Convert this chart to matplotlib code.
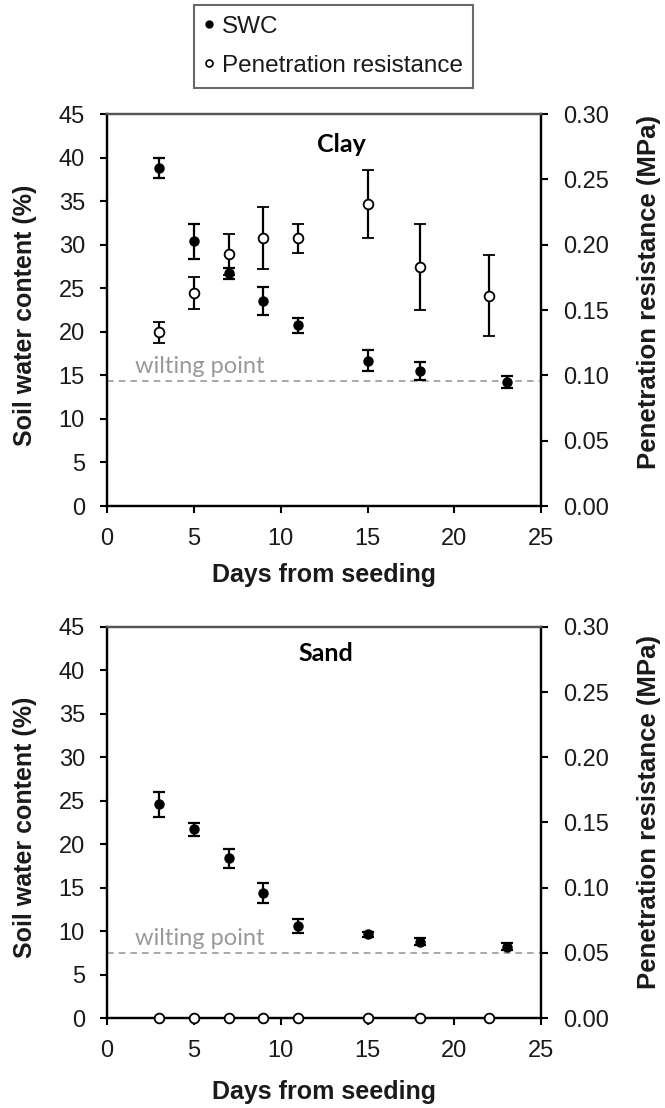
import matplotlib
matplotlib.use("Agg")
import matplotlib.pyplot as plt
from matplotlib.lines import Line2D

plt.rcParams['font.family'] = ['Liberation Sans', 'DejaVu Sans']

# data
swc_days = [3, 5, 7, 9, 11, 15, 18, 23]
pr_days = [3, 5, 7, 9, 11, 15, 18, 22]

# clay
swc_clay = [38.8, 30.4, 26.7, 23.5, 20.75, 16.7, 15.5, 14.2]
swc_clay_err = [1.1, 2.0, 0.6, 1.6, 0.85, 1.25, 1.05, 0.7]
pr_clay = [0.133, 0.163, 0.1925, 0.205, 0.205, 0.231, 0.183, 0.161]
pr_clay_err = [0.008, 0.0123, 0.016, 0.0235, 0.011, 0.026, 0.033, 0.031]
wilting_clay = 14.3

# sand
swc_sand = [24.6, 21.7, 18.4, 14.4, 10.6, 9.63, 8.8, 8.2]
swc_sand_err = [1.45, 0.7, 1.1, 1.15, 0.8, 0.3, 0.4, 0.4]
pr_sand = [0.0, 0.0, 0.0, 0.0, 0.0, 0.0, 0.0, 0.0]
wilting_sand = 7.5

x_ticks = [0, 5, 10, 15, 20, 25]
swc_ticks = [0, 5, 10, 15, 20, 25, 30, 35, 40, 45]
pr_ticks = [0.00, 0.05, 0.10, 0.15, 0.20, 0.25, 0.30]

tick_col = "#1a1a1a"
fig = plt.figure(figsize=(6.65, 11.08), dpi=100)


def draw_panel(rect, swc, swc_err, pr, pr_err, wilting, soil, soil_xy, wilt_y,
               ylab_l, ylab_r, xlab_y):
    ax = fig.add_axes(rect)
    ax2 = ax.twinx()

    # wilting point line + label
    ax.axhline(wilting, color="#999999", ls="--", lw=1.2, dashes=(4, 3), zorder=1)
    ax.text(1.6, wilt_y, "wilting point", family=["Lato", "DejaVu Sans"],
            fontsize=17, color="#999999", va="baseline")

    ax.errorbar(swc_days, swc, yerr=swc_err, fmt="o", color="black", ms=6.5,
                capsize=4.3, elinewidth=1.6, capthick=1.6, zorder=3)
    ax2.errorbar(pr_days, pr, yerr=pr_err, fmt="o", color="black", mfc="white",
                 mec="black", ms=7, mew=1.3, capsize=4.3, elinewidth=1.6,
                 capthick=1.6, clip_on=False, zorder=3)

    ax.text(soil_xy[0], soil_xy[1], soil, family=["Lato", "DejaVu Sans"],
            fontsize=18, fontweight="bold", ha="center", va="center")

    ax.set_xlim(0, 25)
    ax.set_ylim(0, 45)
    ax2.set_ylim(0, 0.30)
    ax.set_xticks(x_ticks)
    ax.set_yticks(swc_ticks)
    ax2.set_yticks(pr_ticks)
    ax2.set_yticklabels(["%.2f" % v for v in pr_ticks])

    for a in (ax, ax2):
        a.tick_params(direction="out", length=5, width=1.5, labelsize=17,
                      pad=11, labelcolor=tick_col)
        for side in ["left", "right", "bottom"]:
            a.spines[side].set_linewidth(1.6)
            a.spines[side].set_color("black")
        a.spines["top"].set_linewidth(1.6)
        a.spines["top"].set_color("#555555")

    ax.set_xlabel("Days from seeding", fontsize=18, fontweight="bold", color=tick_col)
    ax.xaxis.set_label_coords(0.5, xlab_y)
    ax.set_ylabel("Soil water content (%)", fontsize=18, fontweight="bold", color=tick_col)
    ax.yaxis.set_label_coords(-0.161, ylab_l)
    ax2.set_ylabel("Penetration resistance (MPa)", fontsize=18.5, fontweight="bold",
                   color=tick_col, rotation=90)
    ax2.yaxis.set_label_coords(1.221, ylab_r)
    return ax, ax2


draw_panel([0.161, 0.5433, 0.653, 0.3538], swc_clay, swc_clay_err, pr_clay,
           pr_clay_err, wilting_clay, "Clay", (13.5, 41.5), 15.3, 0.487, 0.546, -0.145)
draw_panel([0.161, 0.0812, 0.653, 0.353], swc_sand, swc_sand_err, pr_sand,
           None, wilting_sand, "Sand", (12.6, 41.9), 8.4, 0.488, 0.527, -0.158)

# legend at the top
handles = [
    Line2D([], [], ls="none", marker="o", color="black", ms=5),
    Line2D([], [], ls="none", marker="o", mfc="white", mec="black", ms=5, mew=1.2),
]
leg = fig.legend(handles, ["SWC", "Penetration resistance"], loc="upper center",
                 bbox_to_anchor=(0.5015, 0.9955), fontsize=17.5, frameon=True,
                 fancybox=False, handlelength=0.4, handletextpad=0.3,
                 labelspacing=0.7, borderpad=0.45, borderaxespad=0)
leg.get_frame().set_edgecolor("#444444")
leg.get_frame().set_linewidth(1.5)
for t in leg.get_texts():
    t.set_color(tick_col)

fig.savefig("out.png", dpi=100)
